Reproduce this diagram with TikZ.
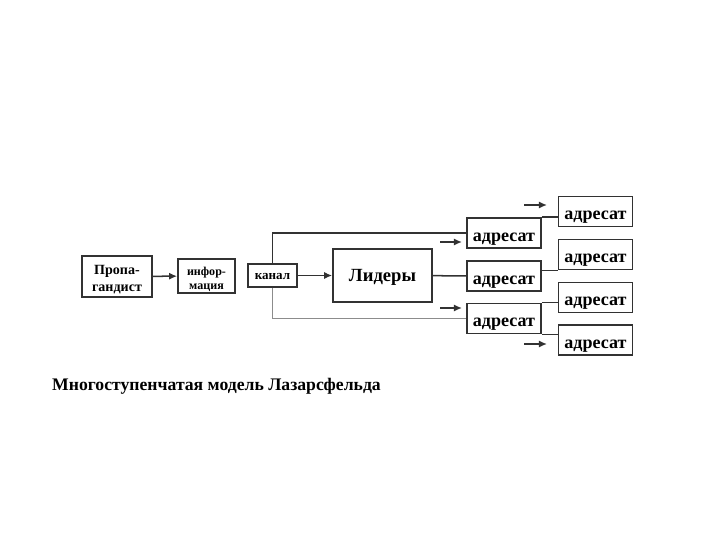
\documentclass[tikz,border=0pt]{standalone}
\usepackage{fontspec}
\setmainfont{Liberation Serif}
\usetikzlibrary{arrows.meta,positioning}
\definecolor{schemeGray}{RGB}{50,50,50}
\definecolor{schemeLightGray}{RGB}{140,140,140}
\newcommand{\topstrut}[1]{\rule{0pt}{#1}}

\begin{document}
\begin{tikzpicture}[
  x=0.035cm, y=-0.035cm,
  box/.style={
    draw=schemeGray,
    line width=1.6pt,
    inner sep=1pt
  },
  twoline/.style={box,align=center},
  addr/.style={
    box,
    minimum width=2.6cm,
    minimum height=1.06cm,
    text height=16pt,
    text depth=0pt,
    font=\bfseries\fontsize{18}{20}\selectfont
  },
  link/.style={schemeGray,line width=1.5pt},
  arrow/.style={link,-{Latex[length=8pt,width=7pt]}}
]
  \useasboundingbox (0,0) rectangle (720,540);
  % sender side
  \node[twoline, minimum width=2.45cm, minimum height=1.435cm,
    font=\bfseries\fontsize{14}{17}\selectfont] (prop) at (117,276.5)
    {\topstrut{16pt}Пропа-\\гандист};
  \node[twoline, minimum width=2.0cm, minimum height=1.19cm,
    font=\bfseries\fontsize{12}{14}\selectfont] (info) at (206.5,276)
    {\topstrut{15pt}инфор-\\мация};
  \node[box, minimum width=1.715cm, minimum height=0.805cm,
    text height=8pt, text depth=0pt,
    font=\bfseries\fontsize{13}{15}\selectfont] (kanal) at (272.5,275.5)
    {канал};
  \node[box, minimum width=3.465cm, minimum height=1.855cm,
    text height=12.5pt, text depth=0pt,
    font=\bfseries\fontsize{18.5}{21}\selectfont] (lidery) at (382.5,275.5)
    {Лидеры};
  % first step addressees
  \node[addr] (adr1) at (504,233) {адресат};
  \node[addr] (adr2) at (504,276) {адресат};
  \node[addr] (adr3) at (504,318.5) {адресат};
  % second step addressees
  \node[addr] (adrA) at (595.5,211.5) {адресат};
  \node[addr] (adrB) at (595.5,254.5) {адресат};
  \node[addr] (adrC) at (595.5,297.5) {адресат};
  \node[addr] (adrD) at (595.5,340) {адресат};
  % caption
  \node[anchor=west, inner sep=0pt,
    font=\bfseries\fontsize{17.6}{20}\selectfont] (caption) at (52,386)
    {Многоступенчатая модель Лазарсфельда};

  \draw[arrow] (prop) -- (info);
  \draw[arrow] (kanal) -- (lidery);
  \draw[link] (kanal.north) |- (adr1.west);
  \draw[link,schemeLightGray] (kanal.south) |- (adr3.west);
  \draw[link] (lidery) -- (adr2);
  \draw[link] (adr1.north east) -- (adr1.north east -| adrA.west);
  \draw[link] (adr2.east |- adrB.south) -- (adrB.south west);
  \draw[link] (adr3.north east) -- (adr3.north east -| adrC.west);
  \draw[link] (adr3.south east) -- (adr3.south east -| adrD.west);

  % loose arrows
  \coordinate (inA) at (440,242);
  \coordinate (inB) at (440,308);
  \coordinate (inC) at (524,205);
  \coordinate (inD) at (524,344);
  \draw[arrow] (inA) -- ++(22,0);
  \draw[arrow] (inB) -- ++(22,0);
  \draw[arrow] (inC) -- ++(23,0);
  \draw[arrow] (inD) -- ++(23,0);
\end{tikzpicture}
\end{document}
